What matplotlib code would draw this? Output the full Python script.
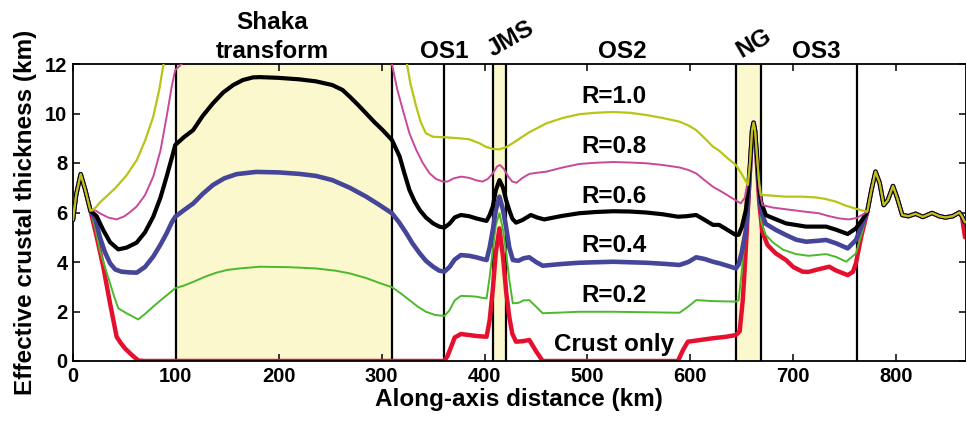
import numpy as np
import matplotlib.pyplot as plt

plt.rcParams['font.family'] = ['Liberation Sans', 'DejaVu Sans']
plt.rcParams['font.weight'] = 'bold'
plt.rcParams['xtick.direction'] = 'in'
plt.rcParams['ytick.direction'] = 'in'

# shared parts of all curves (start of the profile and east end)
head_x = [0, 3, 7.5, 12, 17]
head_y = [5.7, 6.7, 7.55, 6.9, 6.07]
tail_x = [772, 776, 780, 784, 788, 792, 797, 801, 806, 812, 819, 826, 835, 842, 848, 855, 861.5, 864, 867]
tail_y = [6.03, 6.9, 7.65, 7.2, 6.3, 6.5, 7.07, 6.6, 5.9, 5.85, 5.95, 5.82, 5.98, 5.85, 5.8, 5.85, 6.0, 5.85, 5.6]

# R=1.0
r10_x = [22, 26, 41, 52, 62, 70, 78, 84, 88, 92, 96, 320, 324.6, 328, 333.6, 338, 343, 350, 361, 375, 385,
         395, 401, 408, 414, 420, 427, 443, 460, 476, 492, 508, 525, 541, 557, 573, 589.5, 598, 605.7, 614,
         622, 628, 636, 644.3, 650, 656, 658, 660, 661.5, 663, 665, 667, 668.6, 680, 693, 708, 722, 731,
         741.5, 751, 761]
r10_y = [6.2, 6.4, 6.98, 7.5, 8.12, 8.9, 9.87, 11.0, 12.0, 13.5, 15, 15, 12.0, 11.2, 10.28, 9.65, 9.2, 9.06,
         9.04, 9.0, 8.96, 8.8, 8.66, 8.57, 8.55, 8.62, 8.79, 9.23, 9.6, 9.82, 9.97, 10.03, 10.06, 10.03,
         9.94, 9.82, 9.67, 9.52, 9.33, 9.0, 8.66, 8.5, 8.2, 7.92, 7.55, 7.11, 8.0, 9.3, 9.63, 9.3, 8.2,
         7.2, 6.71, 6.68, 6.64, 6.64, 6.61, 6.55, 6.44, 6.28, 6.15]

# R=0.8
r08_x = [22, 26, 34, 42.4, 50, 55, 61.8, 70, 78, 85, 91, 96, 99.4, 105.5, 112, 120, 300, 306, 310, 315,
         320.6, 327, 333.6, 340, 346.6, 353, 359.6, 364, 370, 377.4, 385, 392, 398, 403, 408, 412, 415,
         419, 423, 427, 431, 437, 443.5, 450, 460, 476, 492, 508, 525, 541, 557, 573, 589.5, 598, 605.7,
         614, 622, 628, 636, 641, 649, 653, 656, 658, 660, 661.5, 663, 665, 667, 670, 680, 693, 708, 725,
         735, 745, 754, 762]
r08_y = [6.08, 5.97, 5.8, 5.72, 5.85, 6.0, 6.24, 6.7, 7.45, 8.5, 9.87, 11.1, 11.76, 12.0, 12.6, 13.5,
         13.5, 12.8, 12.0, 11.0, 10.14, 9.2, 8.53, 8.0, 7.58, 7.35, 7.25, 7.25, 7.38, 7.45, 7.4, 7.3, 7.25,
         7.35, 7.58, 7.85, 7.92, 7.75, 7.45, 7.25, 7.2, 7.4, 7.56, 7.6, 7.65, 7.82, 7.96, 8.01, 8.04, 8.02,
         7.99, 7.92, 7.82, 7.72, 7.58, 7.3, 7.04, 6.9, 6.7, 6.57, 6.37, 6.6, 7.3, 8.0, 9.3, 9.63, 9.3, 8.2,
         7.0, 6.3, 6.2, 6.13, 6.05, 5.97, 5.85, 5.76, 5.72, 5.78]

# R=0.6
r06_x = [23, 29.4, 36, 44, 52, 61.8, 70, 78, 85, 91, 96, 99.4, 108, 116.8, 126, 136, 146, 155.7, 165, 175,
         181.6, 200, 220, 236, 252, 262, 269, 277, 285, 293, 301, 310, 317.5, 322, 327, 332, 337, 343, 350,
         356, 361, 366, 371, 377, 385, 392, 398, 402, 405, 408, 411, 414.5, 418, 421, 424, 427, 430.6, 437,
         445, 451, 458, 475, 492, 508, 525, 541, 557, 573, 588, 596, 605.7, 614, 622, 628, 636, 644.3, 647,
         650, 654, 656, 658, 660, 661.5, 663, 665, 667, 669, 673.4, 677, 693, 712.5, 732, 742, 753, 761, 767]
r06_y = [5.85, 5.29, 4.8, 4.51, 4.58, 4.78, 5.2, 5.83, 6.6, 7.45, 8.2, 8.73, 9.05, 9.33, 9.9, 10.41,
         10.85, 11.15, 11.35, 11.46, 11.47, 11.44, 11.38, 11.3, 11.15, 10.95, 10.68, 10.35, 10.0, 9.65,
         9.33, 8.93, 8.26, 7.6, 6.91, 6.45, 6.1, 5.8, 5.56, 5.43, 5.39, 5.55, 5.8, 5.9, 5.85, 5.76, 5.7,
         5.66, 5.9, 6.24, 6.9, 7.31, 7.0, 6.5, 6.1, 5.75, 5.59, 5.7, 5.9, 5.8, 5.72, 5.86, 5.97, 6.02, 6.05,
         6.04, 6.0, 5.93, 5.83, 5.85, 5.9, 5.7, 5.5, 5.5, 5.3, 5.09, 5.1, 5.4, 6.1, 6.9, 8.0, 9.3, 9.63, 9.3,
         8.2, 7.0, 6.4, 5.9, 5.83, 5.56, 5.43, 5.43, 5.3, 5.13, 5.36, 5.7]

# R=0.4
r04_x = [22, 26, 31, 36, 41, 47, 55, 62, 70, 78, 85, 91, 96, 99.4, 108, 117, 126, 136, 147, 159, 178, 200,
         220, 236, 252, 269, 285, 298, 310, 317, 324, 330, 337, 343, 350, 356, 361, 366, 371, 377, 385, 392,
         398, 402, 405, 408, 411, 414.5, 418, 421, 424, 427.5, 433, 438, 443.5, 450, 456.5, 475, 492, 508,
         525, 541, 557, 573, 589.5, 598, 605.7, 614, 622, 628, 636, 644.3, 647, 650, 654, 656, 658, 660,
         661.5, 663, 665, 667, 669, 673.4, 683, 693, 703, 712.5, 722, 732, 742, 753, 761, 767]
r04_y = [5.7, 5.02, 4.4, 3.95, 3.7, 3.61, 3.58, 3.57, 3.8, 4.22, 4.7, 5.16, 5.6, 5.83, 6.1, 6.37, 6.75,
         7.11, 7.38, 7.55, 7.64, 7.62, 7.56, 7.48, 7.31, 7.0, 6.64, 6.3, 5.97, 5.6, 5.16, 4.75, 4.35, 4.05,
         3.81, 3.65, 3.61, 3.8, 4.1, 4.28, 4.25, 4.19, 4.12, 4.08, 4.6, 5.29, 6.1, 6.64, 6.1, 5.4, 4.6, 4.08,
         4.05, 4.15, 4.19, 4.0, 3.85, 3.92, 3.97, 3.99, 4.01, 3.99, 3.97, 3.93, 3.88, 4.0, 4.19, 4.12, 4.01,
         3.95, 3.85, 3.74, 3.9, 4.4, 5.29, 6.3, 7.7, 9.3, 9.63, 9.3, 8.0, 6.8, 6.0, 5.54, 5.3, 5.09, 4.9,
         4.82, 4.85, 4.89, 4.75, 4.55, 4.89, 5.5]

# R=0.2
r02_x = [22, 26, 31, 36, 40, 44, 52, 58, 63.4, 70, 78, 88, 99.4, 108, 117, 128, 139.5, 150, 162, 181.6,
         210, 236, 255, 269, 285, 298, 310, 318, 327, 335, 343, 352, 361, 366, 371, 377, 385, 392, 398, 402,
         405, 408, 411, 414.5, 418, 421, 424, 427.5, 433, 438, 443.5, 450, 456.5, 475, 492, 525, 557, 589.5,
         598, 605.7, 622, 644.3, 647, 650, 652.6, 655, 658, 660, 661.5, 663, 665, 667, 669, 673.4, 680, 690,
         702.7, 715, 732, 742, 751.5, 761, 767]
r02_y = [5.3, 4.48, 3.8, 3.14, 2.6, 2.13, 1.93, 1.8, 1.68, 1.9, 2.2, 2.55, 2.94, 3.05, 3.2, 3.4, 3.57,
         3.68, 3.74, 3.81, 3.79, 3.74, 3.65, 3.54, 3.35, 3.15, 2.98, 2.75, 2.46, 2.2, 1.99, 1.86, 1.82, 2.05,
         2.45, 2.63, 2.62, 2.6, 2.55, 2.53, 3.4, 4.48, 5.5, 5.97, 5.3, 4.4, 3.3, 2.33, 2.35, 2.45, 2.46, 2.2,
         1.93, 1.96, 1.99, 1.99, 1.97, 1.95, 2.2, 2.46, 2.42, 2.4, 2.46, 3.6, 4.89, 6.0, 7.7, 9.3, 9.63, 9.3,
         7.9, 6.5, 5.6, 5.09, 4.8, 4.5, 4.32, 4.25, 4.32, 4.2, 4.01, 4.35, 5.2]

# crust only
crust_x = [23, 29.4, 36, 42.4, 46, 50.5, 57, 63.4, 70, 361, 364, 367.6, 371, 377, 385, 392, 402, 405, 408,
           411, 414.5, 418, 421, 424, 427, 430.6, 437, 443.5, 450, 456.5, 588, 593, 597.6, 610, 622, 635,
           644.3, 648, 651, 653, 655.6, 658, 660, 661.5, 663, 665, 667, 670, 675, 683, 693, 700, 709, 715,
           722, 735, 742, 753, 758, 761, 766]
crust_y = [5.02, 3.81, 2.33, 0.98, 0.75, 0.51, 0.25, 0.02, 0.0, 0.0, 0.2, 0.58, 0.95, 1.09, 1.05, 1.01,
           0.98, 1.66, 2.87, 4.4, 5.36, 4.2, 2.8, 1.79, 1.1, 0.78, 0.8, 0.85, 0.4, 0.0, 0.0, 0.45, 0.78, 0.85,
           0.92, 0.98, 1.05, 1.2, 2.46, 3.8, 5.83, 7.8, 9.3, 9.63, 9.3, 7.8, 6.4, 5.23, 4.69, 4.35, 4.08, 3.8,
           3.61, 3.6, 3.68, 3.81, 3.65, 3.47, 3.6, 3.95, 5.0]

# boundaries and shaded segments
boundaries = [100, 310, 361, 408, 421, 644, 669, 762]
shaded = [(100, 310), (408, 421), (644, 669)]

curve_labels = ['R=1.0', 'R=0.8', 'R=0.6', 'R=0.4', 'R=0.2', 'Crust only']
label_y = [10.44, 8.42, 6.4, 4.42, 2.4, 0.4]

series = [
    (r10_x, r10_y, '#b8c416', 1.6, 7),
    (r08_x, r08_y, '#c9489a', 1.4, 6),
    (r06_x, r06_y, '#000000', 3.0, 5),
    (r04_x, r04_y, '#45459a', 3.3, 4),
    (r02_x, r02_y, '#4cb82c', 1.4, 3),
    (crust_x, crust_y, '#e5102e', 3.2, 2),
]

fig = plt.figure(figsize=(9.66, 4.21), dpi=100)
ax = fig.add_axes([73 / 966, 1 - 361 / 421, 1 - 73 / 966 - 0.0005, (361 - 64) / 421])

for a, b in shaded:
    ax.axvspan(a, b, color='#faf8cc', zorder=0, lw=0)
for xb in boundaries:
    ax.axvline(xb, color='black', lw=1.6, zorder=1)

for i, (xs, ys, col, lw, z) in enumerate(series):
    xx = head_x + xs + tail_x
    yy = head_y + ys + tail_y
    if i == 5:
        yy = yy[:-1] + [5.0]
    ax.plot(xx, yy, color=col, lw=lw, zorder=z, solid_capstyle='round')

for lab, yl in zip(curve_labels, label_y):
    ax.text(526, yl, lab, ha='center', va='baseline', fontsize=17.5, fontweight='bold', zorder=10)

# segment names above the frame
ax.text(194, 13.41, 'Shaka', ha='center', va='baseline', fontsize=17.5, fontweight='bold')
ax.text(194, 12.24, 'transform', ha='center', va='baseline', fontsize=17.5, fontweight='bold')
ax.text(361, 12.24, 'OS1', ha='center', va='baseline', fontsize=17.5, fontweight='bold')
ax.text(534, 12.24, 'OS2', ha='center', va='baseline', fontsize=17.5, fontweight='bold')
ax.text(722, 12.24, 'OS3', ha='center', va='baseline', fontsize=17.5, fontweight='bold')
ax.text(426, 13.0, 'JMS', ha='center', va='center', rotation=30, fontsize=17.5, fontweight='bold')
ax.text(662, 12.85, 'NG', ha='center', va='center', rotation=30, fontsize=17.5, fontweight='bold')

ax.set_xlim(0, 867.5)
ax.set_ylim(0, 12)
ax.set_xticks(np.arange(0, 900, 100))
ax.set_yticks(np.arange(0, 13, 2))
ax.tick_params(top=True, right=True, length=5, width=1.1, labelsize=14.5, pad=4)
for lbl in ax.get_xticklabels() + ax.get_yticklabels():
    lbl.set_fontweight('bold')
for sp in ax.spines.values():
    sp.set_linewidth(1.3)

ax.set_xlabel('Along-axis distance (km)', fontsize=17.5, fontweight='bold', labelpad=2)
ax.set_ylabel('Effective crustal thickness (km)', fontsize=17.5, fontweight='bold', labelpad=6)

fig.savefig('out.png', dpi=100)
